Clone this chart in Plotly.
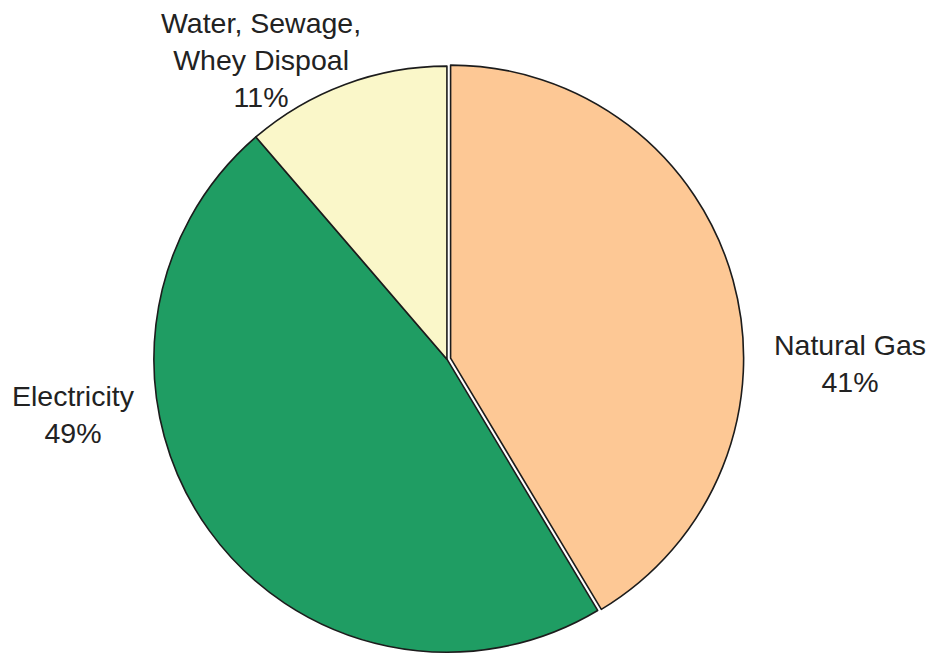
import plotly.graph_objects as go

# Data
categories = ["Natural Gas", "Electricity", "Water, Sewage,<br>Whey Dispoal"]
values = [41.4, 47.3, 11.3]
pct_labels = ["41%", "49%", "11%"]
colors = ["#FDC895", "#1F9D63", "#FAF7C9"]

fig = go.Figure(
    go.Pie(
        labels=categories,
        values=values,
        sort=False,
        direction="clockwise",
        rotation=0,
        pull=[0.013, 0, 0],
        textinfo="none",
        hoverinfo="label+percent",
        marker=dict(colors=colors, line=dict(color="#1c1c1c", width=1.6)),
        domain=dict(x=[0.156, 0.801], y=[0.0, 0.905]),
        showlegend=False,
    )
)

font = dict(family="Arial, Liberation Sans, sans-serif", size=28.5, color="#222222")
label_pos = [(0.910, 1 - 363 / 656), (0.079, 1 - 414 / 656), (0.279, 1 - 60 / 656)]
for name, pct, (x, y) in zip(categories, pct_labels, label_pos):
    fig.add_annotation(
        text=f"{name}<br>{pct}",
        x=x, y=y, xref="paper", yref="paper",
        xanchor="center", yanchor="middle",
        showarrow=False, align="center", font=font,
    )

fig.update_layout(
    width=934, height=656,
    margin=dict(l=0, r=0, t=0, b=0),
    paper_bgcolor="white", plot_bgcolor="white",
)

fig.write_html(
    "out.html",
    config={"displayModeBar": False},
    post_script="document.body.style.margin='0';document.body.style.overflow='hidden';",
)
